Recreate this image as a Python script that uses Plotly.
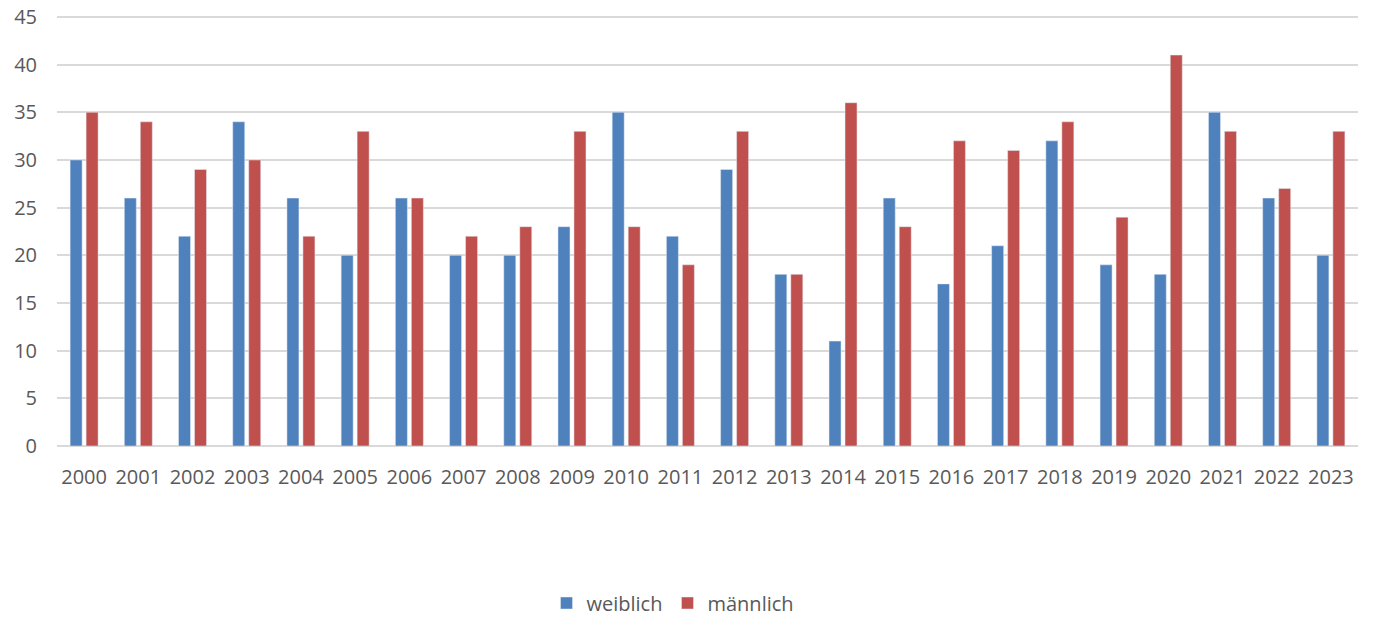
import plotly.graph_objects as go

years = [str(y) for y in range(2000, 2024)]
weiblich = [30, 26, 22, 34, 26, 20, 26, 20, 20, 23, 35, 22, 29, 18, 11, 26, 17, 21, 32, 19, 18, 35, 26, 20]
maennlich = [35, 34, 29, 30, 22, 33, 26, 22, 23, 33, 23, 19, 33, 18, 36, 23, 32, 31, 34, 24, 41, 33, 27, 33]
y_ticks = [0, 5, 10, 15, 20, 25, 30, 35, 40, 45]

W, H = 1373, 617

fig = go.Figure()
fig.add_trace(go.Bar(x=years, y=weiblich, name="weiblich", marker_color="#4F81BD"))
fig.add_trace(go.Bar(x=years, y=maennlich, name="männlich", marker_color="#C0504D"))

fig.update_layout(
    width=W, height=H,
    margin=dict(l=57, r=15, t=15, b=171, autoexpand=False),
    paper_bgcolor="white", plot_bgcolor="white",
    barmode="group", bargap=0.41, bargroupgap=0.25,
    font=dict(family="Open Sans", size=20, color="#595959"),
    legend=dict(orientation="h", x=673 / W, xref="container", xanchor="center",
                y=1 - 603 / H, yref="container", yanchor="middle",
                font=dict(size=20, color="#595959"), itemwidth=30),
    showlegend=True,
)
fig.update_xaxes(showgrid=False, showline=False, ticks="", automargin=False,
                 ticklabelstandoff=17, tickfont=dict(size=20))
fig.update_yaxes(range=[0, 45.2], tickvals=y_ticks, showgrid=True, gridcolor="#D9D9D9", gridwidth=2,
                 zeroline=True, zerolinecolor="#D9D9D9", zerolinewidth=2, ticks="", automargin=False,
                 ticklabeloverflow="allow", ticklabelstandoff=19, tickfont=dict(size=20))

fig.write_html("out.html", config={"displayModeBar": False},
               post_script="document.body.style.margin='0';document.body.style.overflow='hidden';")
